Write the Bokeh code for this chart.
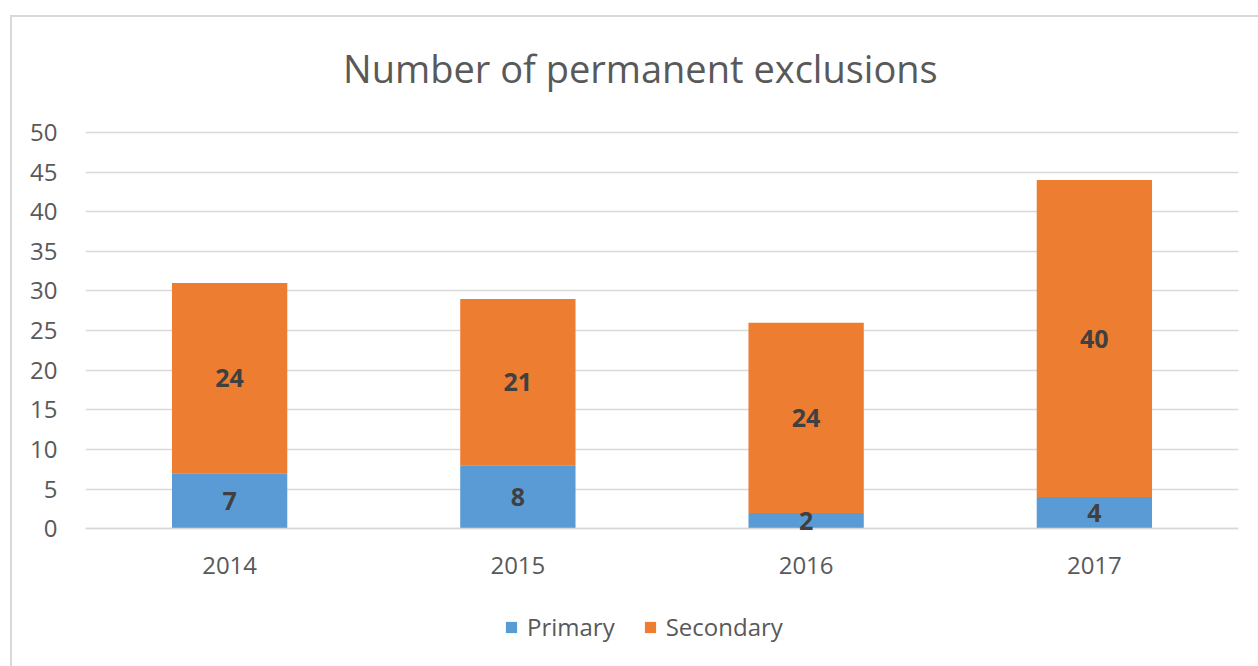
from bokeh.plotting import figure
from bokeh.layouts import column
from bokeh.core.properties import value
from bokeh.models import (ColumnDataSource, FactorRange, Range1d, FixedTicker,
                          LabelSet, Label, Legend, LegendItem)
from bokeh.embed import file_html
from bokeh.resources import INLINE

years = ["2014", "2015", "2016", "2017"]
primary = [7, 8, 2, 4]
secondary = [24, 21, 24, 40]
y_ticks = [0, 5, 10, 15, 20, 25, 30, 35, 40, 45, 50]
series = ["Primary", "Secondary"]
colors = ["#5b9bd5", "#ed7d31"]
title_text = "Number of permanent exclusions"

src = ColumnDataSource(dict(
    year=years,
    Primary=primary,
    Secondary=secondary,
    plab=[str(v) for v in primary],
    slab=[str(v) for v in secondary],
    pmid=[p / 2 for p in primary],
    smid=[p + s / 2 for p, s in zip(primary, secondary)],
))

FONT = "Open Sans"
GRAY = "#595959"

# The frame spans the whole height of the chart box so that the title and the
# legend (drawn as annotations inside the frame) can sit above/below the bars;
# ticks and grid only cover 0..50 and the x axis is pinned at y = 0.
p = figure(width=1246, height=649, x_range=FactorRange(*years, range_padding=0),
           y_range=Range1d(-17, 64.5), output_backend="svg", toolbar_location=None,
           min_border_left=73, min_border_right=20, min_border_top=0,
           min_border_bottom=3)
p.title.text = ""
p.title.visible = False

rs = p.vbar_stack(series, x="year", width=0.4, source=src, color=colors,
                  line_color=None)

for ycol, tcol in (("pmid", "plab"), ("smid", "slab")):
    p.add_layout(LabelSet(x="year", y=ycol, text=tcol, source=src,
                          text_align="center", text_baseline="middle",
                          text_font=value(FONT), text_font_size="25px",
                          text_font_style="bold", text_color="#404040"))

p.add_layout(Label(x=1.925, y=58.1, text=title_text, text_align="center",
                   text_baseline="middle", text_font=FONT,
                   text_font_size="38px", text_color=GRAY))

p.outline_line_color = None
p.xgrid.grid_line_color = None
p.ygrid.grid_line_color = "#d9d9d9"
p.ygrid.grid_line_width = 1.5
p.yaxis.ticker = FixedTicker(ticks=y_ticks)
p.yaxis.axis_line_color = None
p.yaxis.major_tick_line_color = None
p.yaxis.minor_tick_line_color = None
p.yaxis.major_label_standoff = 22
p.yaxis.major_label_text_font = FONT
p.yaxis.major_label_text_font_size = "24px"
p.yaxis.major_label_text_color = GRAY

p.xaxis.fixed_location = 0
p.xaxis.axis_line_color = "#d9d9d9"
p.xaxis.axis_line_width = 1.5
p.xaxis.major_tick_line_color = None
p.xaxis.minor_tick_line_color = None
p.xaxis.major_label_standoff = 22
p.xaxis.major_label_text_font = FONT
p.xaxis.major_label_text_font_size = "24px"
p.xaxis.major_label_text_color = GRAY

legend = Legend(items=[LegendItem(label=s, renderers=[r]) for s, r in zip(series, rs)],
                orientation="horizontal", location=(419, 20),
                glyph_width=14, glyph_height=14, spacing=28,
                label_text_font=FONT, label_text_font_size="24px",
                label_text_color=GRAY, label_standoff=9,
                border_line_color=None, background_fill_alpha=0,
                margin=0, padding=0)
p.add_layout(legend)

layout = column(p, styles={"margin-left": "10px", "margin-top": "15px",
                           "border-left": "2px solid #d9d9d9",
                           "border-top": "2px solid #d9d9d9"})

open("out.html", "w").write(file_html(layout, INLINE))
